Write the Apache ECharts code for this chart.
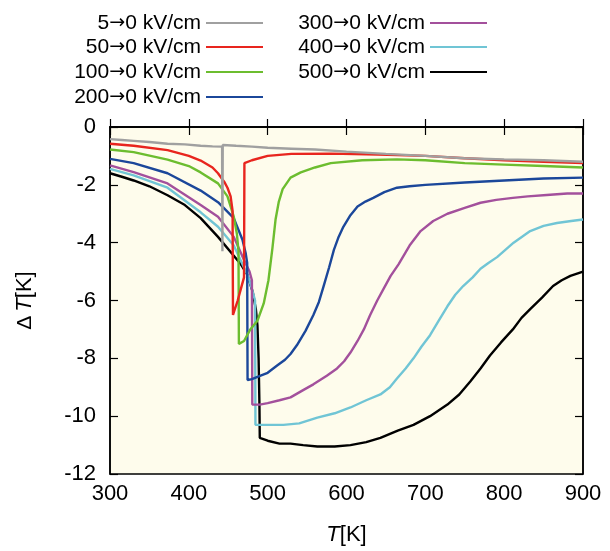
<!DOCTYPE html>
<html>
<head>
<meta charset="utf-8">
<script src="https://cdn.jsdelivr.net/npm/echarts@6/dist/echarts.min.js"></script>
<style>
  html, body { margin: 0; padding: 0; background: #fff; }
  #chart { width: 610px; height: 551px; }
</style>
</head>
<body>
<div id="chart"></div>
<script>
// ΔT vs T: [T (K), ΔT (K)]
var names = ['5→0 kV/cm', '50→0 kV/cm', '100→0 kV/cm', '200→0 kV/cm',
             '300→0 kV/cm', '400→0 kV/cm', '500→0 kV/cm'];
var colors = ['#a0a0a0', '#e8251e', '#6cbd2f', '#1b479a', '#a3509c', '#70c5d5', '#000000'];

var s5 = [[300,-0.42],[315,-0.45],[330,-0.48],[350,-0.52],[373,-0.58],[395,-0.6],[415,-0.65],
  [430,-0.67],[442.2,-0.68],[442.6,-4.3],[443,-0.62],[460,-0.65],[480,-0.68],[500,-0.72],
  [530,-0.75],[560,-0.78],[600,-0.85],[650,-0.93],[700,-1.0],[750,-1.08],[800,-1.12],
  [850,-1.15],[900,-1.2]];
var s50 = [[300,-0.58],[330,-0.65],[373,-0.8],[400,-1.0],[415,-1.16],[430,-1.4],[437,-1.6],
  [445,-1.9],[449,-2.1],[453,-2.4],[455.5,-2.9],[456,-6.5],[458,-6.5],[462,-6.0],[466,-5.6],
  [470,-5.2],[470.5,-1.25],[480,-1.15],[500,-1.0],[530,-0.93],[580,-0.92],[640,-0.95],
  [700,-1.0],[750,-1.08],[800,-1.15],[850,-1.2],[900,-1.25]];
var s100 = [[300,-0.78],[330,-0.87],[373,-1.13],[400,-1.35],[415,-1.57],[437,-1.95],[449,-2.4],
  [457,-3.1],[461,-3.7],[463,-4.3],[463.5,-7.5],[470,-7.4],[478,-7.0],[487,-6.7],[495,-6.1],
  [501,-5.3],[506,-4.2],[510,-3.2],[514,-2.6],[519,-2.15],[529,-1.75],[542,-1.57],[560,-1.4],
  [580,-1.25],[620,-1.15],[664,-1.12],[700,-1.15],[750,-1.25],[800,-1.3],[850,-1.35],[900,-1.4]];
var s200 = [[300,-1.1],[330,-1.25],[373,-1.6],[415,-2.2],[437,-2.6],[457,-3.15],[468,-3.9],
  [472,-4.35],[474,-4.7],[474.5,-8.75],[480,-8.72],[491,-8.6],[500,-8.5],[512,-8.25],[522,-8.05],
  [529,-7.85],[537,-7.55],[548,-7.05],[558,-6.5],[565,-6.05],[571,-5.5],[578,-4.85],[584,-4.25],
  [590,-3.8],[596,-3.45],[605,-3.05],[614,-2.75],[624,-2.58],[634,-2.45],[648,-2.25],[664,-2.1],
  [680,-2.05],[700,-2.0],[750,-1.92],[800,-1.85],[850,-1.78],[900,-1.75]];
var s300 = [[300,-1.33],[330,-1.56],[373,-1.95],[415,-2.7],[437,-3.1],[457,-3.8],[470,-4.6],
  [477,-5.0],[480,-5.3],[480.5,-9.6],[490,-9.6],[500,-9.55],[515,-9.45],[529,-9.35],[545,-9.1],
  [558,-8.9],[575,-8.6],[588,-8.35],[597,-8.1],[605,-7.8],[614,-7.4],[622,-7.0],[630,-6.5],
  [639,-6.0],[647,-5.6],[656,-5.15],[666,-4.75],[680,-4.1],[694,-3.6],[710,-3.25],[728,-3.0],
  [750,-2.8],[770,-2.62],[790,-2.52],[811,-2.45],[830,-2.4],[854,-2.35],[880,-2.3],[900,-2.3]];
var s400 = [[300,-1.45],[330,-1.67],[373,-2.1],[415,-2.95],[437,-3.45],[457,-4.1],[475,-5.15],
  [480,-5.6],[484,-6.0],[484.5,-10.3],[500,-10.3],[520,-10.3],[540,-10.25],[563,-10.05],
  [585,-9.9],[605,-9.7],[625,-9.45],[643,-9.25],[655,-9.0],[664,-8.7],[675,-8.35],[685,-8.0],
  [695,-7.6],[706,-7.2],[717,-6.7],[728,-6.2],[738,-5.8],[748,-5.5],[760,-5.2],[770,-4.9],
  [780,-4.7],[791,-4.5],[812,-4.0],[833,-3.6],[850,-3.42],[867,-3.32],[885,-3.25],[900,-3.2]];
var s500 = [[300,-1.6],[315,-1.72],[330,-1.85],[350,-2.05],[373,-2.36],[395,-2.7],[415,-3.15],
  [437,-3.8],[457,-4.45],[466,-4.75],[474,-5.1],[481,-5.7],[485,-6.3],[487,-6.85],[488.5,-8.0],
  [489.5,-9.5],[490,-10.75],[500,-10.85],[515,-10.95],[529,-10.95],[545,-11.0],[563,-11.05],
  [585,-11.05],[605,-11.0],[625,-10.9],[643,-10.75],[665,-10.5],[685,-10.3],[706,-10.0],
  [728,-9.6],[743,-9.25],[757,-8.8],[770,-8.35],[782,-7.9],[796,-7.45],[811,-7.0],[822,-6.6],
  [833,-6.3],[848,-5.9],[862,-5.5],[873,-5.3],[884,-5.15],[900,-5.0]];

var seriesData = [s5, s50, s100, s200, s300, s400, s500];
var xTicks = { min: 300, max: 900, step: 100 };
var yTicks = { min: -12, max: 0, step: 2 };

var FONT = 'Liberation Sans';
var myChart = echarts.init(document.getElementById('chart'));

// legend: two columns, text right-aligned in front of the line sample
var legendPos = [
  { right: 347, top: 12 }, { right: 347, top: 36 }, { right: 347, top: 61 }, { right: 347, top: 86 },
  { right: 123, top: 12 }, { right: 123, top: 36 }, { right: 123, top: 61 }
];
var legends = names.map(function(n, i) {
  return {
    data: [{ name: n, icon: 'rect' }],
    right: legendPos[i].right,
    top: legendPos[i].top,
    align: 'right',
    padding: 0,
    itemWidth: 57,
    itemHeight: 2,
    formatter: function(name) { return name.replace('→', '{a|→}'); },
    textStyle: { fontFamily: FONT, fontSize: 21, color: '#000', lineHeight: 22,
      rich: { a: { fontFamily: 'DejaVu Sans', fontSize: 19, color: '#000', lineHeight: 22 } } },
    selectedMode: false
  };
});

var tickStyle = { show: true, inside: true, length: 8, lineStyle: { color: '#000', width: 1.2 } };
var lineAxis = { show: true, lineStyle: { color: '#000', width: 1.5 } };

var option = {
  animation: false,
  backgroundColor: '#fff',
  legend: legends,
  grid: { left: 110, right: 27, top: 127, bottom: 74, show: true,
          backgroundColor: '#fefcec', borderColor: '#000', borderWidth: 1.5 },
  xAxis: [{
    type: 'value', min: xTicks.min, max: xTicks.max, interval: xTicks.step,
    axisLine: lineAxis, axisTick: tickStyle, splitLine: { show: false },
    axisLabel: { fontFamily: FONT, fontSize: 22, color: '#000', margin: 9 },
    name: '{t|T}{k|[K]}', nameLocation: 'middle', nameGap: 50,
    nameTextStyle: { rich: {
      t: { fontFamily: FONT, fontSize: 22, fontStyle: 'italic', color: '#000' },
      k: { fontFamily: FONT, fontSize: 22, color: '#000' } } }
  }, {
    type: 'value', position: 'top', min: xTicks.min, max: xTicks.max, interval: xTicks.step,
    axisLine: lineAxis, axisTick: tickStyle, axisLabel: { show: false }, splitLine: { show: false }
  }],
  yAxis: [{
    type: 'value', min: yTicks.min, max: yTicks.max, interval: yTicks.step,
    axisLine: lineAxis, axisTick: tickStyle, splitLine: { show: false },
    axisLabel: { fontFamily: FONT, fontSize: 22, color: '#000', margin: 14 },
    name: '{d|Δ}{t|T}{k|[K]}', nameLocation: 'middle', nameGap: 74, nameRotate: 90,
    nameTextStyle: { rich: {
      d: { fontFamily: FONT, fontSize: 21, color: '#000', padding: [0, 4, 0, 0] },
      t: { fontFamily: FONT, fontSize: 22, fontStyle: 'italic', color: '#000' },
      k: { fontFamily: FONT, fontSize: 22, color: '#000' } } }
  }, {
    type: 'value', position: 'right', min: yTicks.min, max: yTicks.max, interval: yTicks.step,
    axisLine: lineAxis, axisTick: tickStyle, axisLabel: { show: false }, splitLine: { show: false }
  }],
  series: seriesData.map(function(d, i) {
    return {
      name: names[i],
      type: 'line',
      data: d,
      showSymbol: false,
      color: colors[i],
      lineStyle: { color: colors[i], width: 2.4 },
      z: 10 - i
    };
  })
};

myChart.setOption(option);
</script>
</body>
</html>
